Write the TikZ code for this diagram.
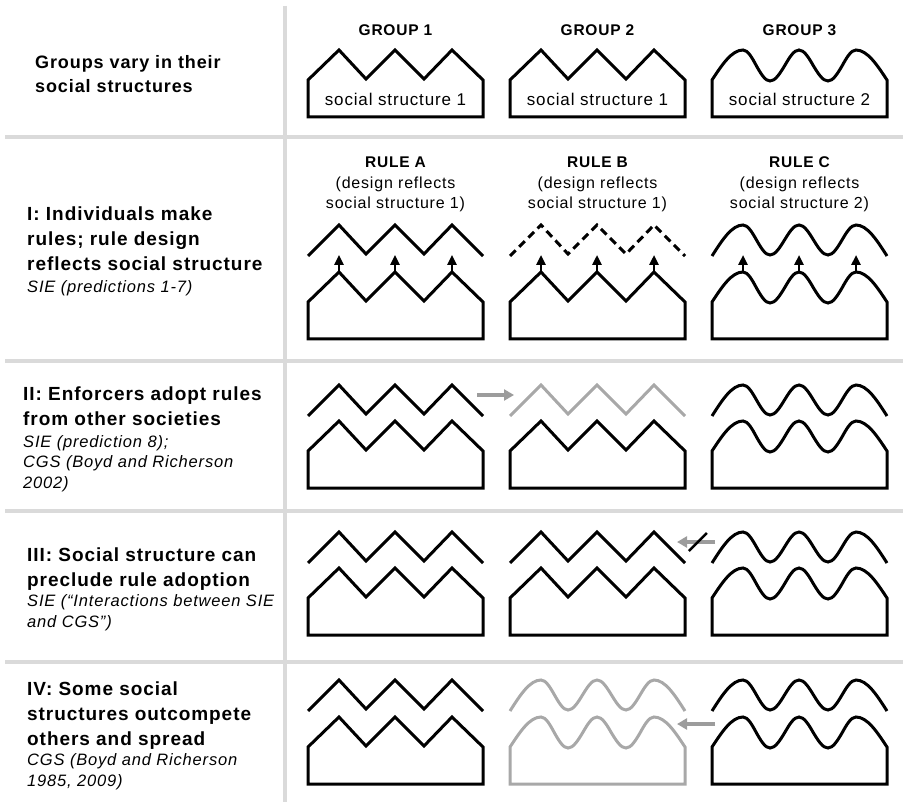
\documentclass[tikz,border=0pt]{standalone}
\usepackage{fontspec}
\setmainfont{Liberation Sans}[LetterSpace=5]
\usetikzlibrary{arrows.meta}
\definecolor{dividergray}{HTML}{DADADA}
\definecolor{adoptgray}{HTML}{9C9C9C}
\definecolor{fadegray}{HTML}{A8A8A8}

\tikzset{
  outline/.style={line width=3pt, line join=miter},
  divider/.style={dividergray, line width=4pt},
  brokenrule/.style={dash pattern=on 8pt off 5pt},
  rise/.style={line width=2.4pt, -{Triangle[length=10pt,width=9pt]}},
  adopt/.style={adoptgray, line width=4pt, -{Triangle[length=10pt,width=11pt]}},
  blocked/.style={line width=2.6pt},
  tophead/.style={font=\fontsize{18}{24}\selectfont\bfseries, align=left, inner sep=0pt, anchor=base west},
  lefthead/.style={font=\fontsize{19}{25}\selectfont\bfseries, align=left, inner sep=0pt, anchor=base west},
  source/.style={font=\fontsize{16.5}{21}\selectfont\itshape, align=left, inner sep=0pt, anchor=base west},
  colhead/.style={font=\fontsize{15.5}{18}\selectfont\bfseries, inner sep=0pt, anchor=base},
  note/.style={font=\fontsize{16}{20}\selectfont, align=center, inner sep=0pt, anchor=base},
  housenote/.style={font=\fontsize{17}{20}\selectfont, inner sep=0pt, anchor=base},
  pics/zigrule/.style={code={
    \draw[outline] (0,31) -- (31,0) -- (58,29) -- (87,0) -- (116,29) -- (144,0) -- (175,31);
    \coordinate (-west) at (0,10);
    \coordinate (-east) at (175,10);
    \foreach \k/\x in {1/31,2/87,3/144} \coordinate (-b\k) at (\x,30);
  }},
  pics/waverule/.style={code={
    \draw[outline] (0,31) sin (31,0) cos (44.5,15) sin (58,30) cos (72.5,15) sin (87,0)
      cos (101.5,15) sin (116,30) cos (130,15) sin (144,0) cos (175,31);
    \coordinate (-west) at (0,10);
    \coordinate (-east) at (175,10);
    \foreach \k/\x in {1/31,2/87,3/144} \coordinate (-b\k) at (\x,30);
  }},
  pics/zighouse/.style={code={
    \draw[outline] (0,67) -- (0,30) -- (31,0) -- (58,29) -- (87,0) -- (116,29) -- (144,0)
      -- (175,30) -- (175,67) -- cycle;
    \coordinate (-west) at (0,7);
    \coordinate (-east) at (175,7);
    \foreach \k/\x in {1/31,2/87,3/144} \coordinate (-p\k) at (\x,0);
  }},
  pics/wavehouse/.style={code={
    \draw[outline] (0,67) -- (0,30) sin (31,0) cos (44.5,16) sin (58,31) cos (72.5,16) sin (87,0)
      cos (101.5,16) sin (116,31) cos (130,16) sin (144,0) cos (175,30) -- (175,67) -- cycle;
    \coordinate (-west) at (0,7);
    \coordinate (-east) at (175,7);
    \foreach \k/\x in {1/31,2/87,3/144} \coordinate (-p\k) at (\x,0);
  }}
}

\begin{document}
\begin{tikzpicture}[x=1pt, y=-1pt]
\useasboundingbox (0,0) rectangle (903,802);
\draw[divider] (285,6) -- (285,802);
\foreach \y in {137,361,511,662}
  \draw[divider] (5,\y) -- (903,\y);

% left column (base = last line)
\node[tophead] (q0) at (35,93) {Groups vary in their\\social structures};
\node[lefthead] (q1) at (27,271) {I: Individuals make\\rules; rule design\\reflects social structure};
\node[source] (c1) at (27,293) {SIE (predictions 1-7)};
\node[lefthead] (q2) at (23,426) {II: Enforcers adopt rules\\from other societies};
\node[source] (c2) at (23,489) {SIE (prediction 8);\\CGS (Boyd and Richerson\\2002)};
\node[lefthead] (q3) at (27,586) {III: Social structure can\\preclude rule adoption};
\node[source] (c3) at (27,627) {SIE (``Interactions between SIE\\and CGS'')};
\node[lefthead] (q4) at (27,745) {IV: Some social\\structures outcompete\\others and spread};
\node[source] (c4) at (27,786) {CGS (Boyd and Richerson\\1985, 2009)};

% groups
\node[colhead] (g1) at (395.5,35.5) {GROUP 1};
\node[colhead] (g2) at (597.5,35.5) {GROUP 2};
\node[colhead] (g3) at (799.5,35.5) {GROUP 3};
\pic (h01) at (308,50) {zighouse};
\pic (h02) at (510,50) {zighouse};
\pic (h03) at (712,50) {wavehouse};
\node[housenote] (s01) at (395.5,106) {social structure 1};
\node[housenote] (s02) at (597.5,106) {social structure 1};
\node[housenote] (s03) at (799.5,106) {social structure 2};

% I
\node[colhead] (ra) at (395.5,168) {RULE A};
\node[colhead] (rb) at (597.5,168) {RULE B};
\node[colhead] (rc) at (799.5,168) {RULE C};
\node[note] (da) at (395.5,209) {(design reflects\\social structure 1)};
\node[note] (db) at (597.5,209) {(design reflects\\social structure 1)};
\node[note] (dc) at (799.5,209) {(design reflects\\social structure 2)};
\pic (r11) at (308,225) {zigrule};
\pic[brokenrule] (r12) at (510,225) {zigrule};
\pic (r13) at (712,225) {waverule};
\pic (h11) at (308,272) {zighouse};
\pic (h12) at (510,272) {zighouse};
\pic (h13) at (712,272) {wavehouse};
\foreach \g in {1,2,3}
  \foreach \k in {1,2,3}
    \draw[rise] (h1\g-p\k) -- (r1\g-b\k);

% II
\pic (r21) at (308,385) {zigrule};
\pic[fadegray] (r22) at (510,385) {zigrule};
\pic (r23) at (712,385) {waverule};
\pic (h21) at (308,421) {zighouse};
\pic (h22) at (510,421) {zighouse};
\pic (h23) at (712,421) {wavehouse};
\draw[adopt] ([xshift=-6pt]r21-east) -- ([xshift=4pt]r22-west);

% III
\pic (r31) at (308,532) {zigrule};
\pic (r32) at (510,532) {zigrule};
\pic (r33) at (712,532) {waverule};
\pic (h31) at (308,568) {zighouse};
\pic (h32) at (510,568) {zighouse};
\pic (h33) at (712,568) {wavehouse};
\draw[adopt] ([xshift=3pt]r33-west) -- coordinate[pos=.45] (stop) ([xshift=-8pt]r32-east);
\draw[blocked] ([shift={(-9pt,-9pt)}]stop) -- ([shift={(9pt,9pt)}]stop);

% IV
\pic (r41) at (308,680) {zigrule};
\pic[fadegray] (r42) at (510,680) {waverule};
\pic (r43) at (712,680) {waverule};
\pic (h41) at (308,717) {zighouse};
\pic[fadegray] (h42) at (510,717) {wavehouse};
\pic (h43) at (712,717) {wavehouse};
\draw[adopt] ([xshift=3pt]h43-west) -- ([xshift=-8pt]h42-east);
\end{tikzpicture}
\end{document}
